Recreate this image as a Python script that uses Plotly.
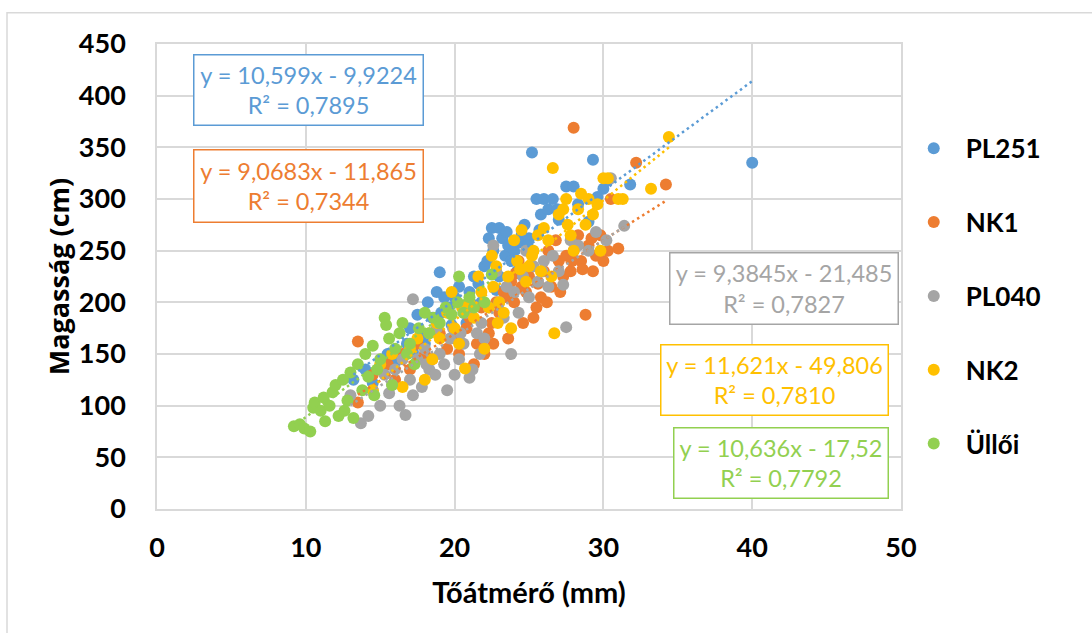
import plotly.graph_objects as go

series_names = ["PL251", "NK1", "PL040", "NK2", "Üllői"]
colors = ["#5B9BD5", "#ED7D31", "#A5A5A5", "#FFC000", "#92D050"]

pl251_x = [13.2, 14.0, 14.5, 15.5, 16.2, 16.8, 17.0, 17.5, 17.8, 18.2, 18.5, 18.8, 19.0, 19.3, 19.6,
           20.0, 20.3, 20.6, 21.0, 21.3, 21.6, 22.0, 22.2, 22.5, 22.6, 23.0, 23.2, 23.4, 23.6, 23.8,
           24.0, 24.2, 24.5, 24.7, 25.0, 25.2, 25.5, 25.8, 26.0, 26.3, 26.6, 27.0, 27.5, 28.0, 28.3,
           29.0, 29.3, 29.6, 30.0, 30.3, 31.8, 40.0, 19.8, 21.8, 23.0, 17.2, 16.0, 18.0, 20.8, 22.8,
           22.3, 23.5, 24.3, 21.2, 19.1, 25.7, 26.9, 24.9]
pl251_y = [125, 135, 122, 150, 148, 160, 175, 188, 170, 200, 185, 210, 229, 205, 195,
           205, 215, 190, 210, 225, 218, 235, 240, 272, 250, 272, 262, 245, 255, 240,
           250, 230, 265, 275, 262, 345, 300, 285, 300, 290, 300, 280, 312, 312, 295,
           278, 338, 302, 310, 318, 314, 335, 178, 200, 225, 152, 142, 160, 180, 212,
           262, 268, 258, 198, 190, 270, 290, 255]

nk1_x = [13.5, 13.5, 14.5, 15.5, 16.0, 16.5, 17.0, 17.5, 18.0, 18.5, 19.0, 19.5, 20.0, 20.3, 20.8,
         21.0, 21.5, 21.8, 22.0, 22.3, 22.5, 22.8, 23.0, 23.3, 23.5, 23.8, 24.0, 24.3, 24.5, 24.8,
         25.0, 25.3, 25.5, 25.8, 26.0, 26.3, 26.5, 27.0, 27.3, 27.5, 27.8, 28.0, 28.0, 28.3, 28.5,
         28.8, 29.0, 29.3, 29.5, 29.8, 30.0, 30.3, 30.5, 31.0, 32.2, 34.2, 26.8, 24.6, 23.6, 21.3,
         25.6, 26.2, 27.1, 28.6, 24.1, 22.6, 27.9, 29.2]
nk1_y = [103, 162, 130, 140, 125, 150, 135, 160, 150, 145, 170, 155, 165, 150, 175,
         185, 160, 195, 150, 170, 180, 200, 190, 210, 205, 220, 200, 240, 215, 210,
         225, 185, 195, 205, 230, 250, 215, 240, 225, 245, 230, 369, 250, 265, 240,
         188, 255, 230, 245, 265, 240, 250, 300, 252, 335, 314, 260, 180, 165, 140,
         218, 200, 210, 232, 228, 160, 240, 262]

pl040_x = [13.0, 13.7, 14.2, 14.5, 15.0, 15.3, 15.8, 16.0, 16.3, 16.7, 17.0, 17.2, 17.5, 17.8, 18.0,
           18.3, 18.7, 19.0, 19.3, 19.7, 20.0, 20.3, 20.6, 21.0, 21.2, 21.5, 21.8, 22.0, 22.3, 22.6,
           23.0, 23.3, 23.8, 24.0, 24.3, 24.6, 25.0, 25.3, 25.6, 26.0, 26.3, 26.6, 27.0, 27.3, 27.5,
           27.8, 28.3, 29.0, 29.5, 30.2, 30.5, 31.4, 17.2, 18.8, 22.8, 24.8, 20.8, 19.5,
           16.5, 18.1, 19.9, 21.7, 23.5, 25.9, 15.6, 20.4]
pl040_y = [110, 83, 90, 115, 100, 130, 120, 135, 100, 91, 125, 110, 145, 118, 155,
           135, 130, 150, 140, 165, 130, 145, 160, 127, 135, 170, 180, 165, 195, 255,
           200, 185, 150, 210, 190, 225, 205, 235, 220, 240, 215, 245, 230, 217, 176,
           260, 255, 250, 268, 260, 320, 274, 203, 175, 230, 250, 190, 115,
           145, 140, 175, 150, 215, 230, 112, 170]

nk2_x = [14.5, 15.0, 15.8, 16.5, 17.0, 17.5, 18.0, 18.3, 18.8, 19.0, 19.5, 20.0, 20.3, 20.7, 21.0,
         21.3, 21.8, 22.0, 22.3, 22.5, 22.6, 22.8, 23.0, 23.3, 23.6, 24.0, 24.2, 24.5, 24.8, 25.0,
         25.3, 25.6, 25.8, 26.0, 26.3, 26.6, 26.7, 27.0, 27.3, 27.5, 27.8, 28.0, 28.3, 28.5, 29.0,
         29.3, 29.6, 30.0, 30.3, 31.0, 31.3, 33.2, 34.4, 29.8, 28.8, 23.8, 21.6, 19.8, 18.5,
         24.4, 25.2, 26.5, 22.9, 20.5, 27.6]
nk2_y = [115, 140, 150, 118, 155, 165, 125, 170, 180, 165, 190, 175, 160, 136, 200,
         185, 210, 155, 195, 245, 215, 235, 200, 190, 225, 260, 240, 270, 220, 235,
         250, 265, 230, 272, 260, 330, 170, 285, 290, 300, 265, 250, 290, 305, 300,
         285, 295, 320, 320, 300, 300, 310, 360, 250, 275, 175, 225, 210, 145,
         232, 245, 225, 180, 195, 275]

ulloi_x = [9.2, 9.6, 9.9, 10.3, 10.5, 10.6, 11.0, 11.3, 11.6, 11.8, 12.0, 12.2, 12.5, 12.8, 13.0,
           13.2, 13.5, 13.8, 14.0, 14.2, 14.5, 14.8, 15.0, 15.3, 15.4, 15.6, 15.8, 16.0, 16.3, 16.5,
           16.8, 17.0, 17.3, 17.6, 18.0, 18.3, 18.6, 19.0, 19.4, 19.8, 20.2, 20.3, 20.6, 21.0, 21.3,
           22.0, 22.5, 14.6, 12.6, 11.2]
ulloi_y = [80, 82, 78, 75, 98, 103, 95, 85, 100, 113, 120, 90, 125, 105, 132,
           88, 140, 115, 150, 128, 158, 135, 145, 185, 178, 165, 120, 155, 170, 180,
           150, 160, 140, 175, 190, 170, 185, 180, 195, 188, 200, 225, 190, 205, 195,
           200, 227, 110, 95, 108]

xs = [pl251_x, nk1_x, pl040_x, nk2_x, ulloi_x]
ys = [pl251_y, nk1_y, pl040_y, nk2_y, ulloi_y]

slopes = [10.599, 9.0683, 9.3845, 11.621, 10.636]
intercepts = [-9.9224, -11.865, -21.485, -49.806, -17.52]
eq_labels = ["y = 10,599x - 9,9224", "y = 9,0683x - 11,865", "y = 9,3845x - 21,485",
             "y = 11,621x - 49,806", "y = 10,636x - 17,52"]
r2_labels = ["R² = 0,7895", "R² = 0,7344", "R² = 0,7827", "R² = 0,7810", "R² = 0,7792"]

x_ticks = [0, 10, 20, 30, 40, 50]
y_ticks = [0, 50, 100, 150, 200, 250, 300, 350, 400, 450]

FONT = "Lato"
GRID = "#d9d9d9"

fig = go.Figure()
for i, name in enumerate(series_names):
    fig.add_trace(go.Scatter(
        x=xs[i], y=ys[i], mode="markers", name=name,
        legendgroup=name,
        marker=dict(color=colors[i], size=12, line=dict(width=0)),
    ))

for i, name in enumerate(series_names):
    x0, x1 = min(xs[i]), max(xs[i])
    fig.add_trace(go.Scatter(
        x=[x0, x1], y=[slopes[i] * x0 + intercepts[i], slopes[i] * x1 + intercepts[i]],
        mode="lines", showlegend=False, hoverinfo="skip",
        line=dict(color=colors[i], width=2.5, dash="2.5px,3.5px"),
    ))

# label boxes: (x, y) centre in data units, width, height in px
box_pos = [(10.17, 405.3, 228, 69), (10.17, 312.3, 228, 71), (42.12, 213.0, 227, 70),
           (41.48, 124.4, 226, 69), (41.92, 44.1, 213, 69)]
for i in range(5):
    bx, by, bw, bh = box_pos[i]
    fig.add_annotation(
        x=bx, y=by, xref="x", yref="y", xanchor="center", yanchor="middle",
        text=eq_labels[i] + "<br>" + r2_labels[i], showarrow=False,
        font=dict(family=FONT, size=23.5, color=colors[i]),
        bordercolor=colors[i], borderwidth=1.5, borderpad=0,
        width=bw, height=bh, bgcolor="white", align="center",
    )

# outer chart border
fig.add_shape(type="rect", xref="paper", yref="paper",
              x0=(7 - 157) / 744, x1=1.5, y0=-0.5, y1=(509 - 13) / 464.7,
              line=dict(color=GRID, width=1.5), layer="below")

fig.update_layout(
    width=1092, height=633,
    margin=dict(l=157, r=191, t=44, b=124),
    paper_bgcolor="white", plot_bgcolor="white",
    font=dict(family=FONT, color="black"),
    showlegend=True,
    legend=dict(x=1.001, y=0.826, xanchor="left", yanchor="top",
                font=dict(family=FONT, size=26, color="black", weight="bold"),
                itemwidth=54, tracegroupgap=37, bgcolor="rgba(0,0,0,0)"),
    xaxis=dict(range=[0, 50], tickvals=x_ticks, showgrid=True, gridcolor=GRID, gridwidth=1.5,
               zeroline=False, showline=True, linecolor=GRID, linewidth=1.5, mirror=True,
               ticks="", ticklabelstandoff=14,
               tickfont=dict(family=FONT, size=27, color="black", weight="bold"),
               title=dict(text="Tőátmérő (mm)", standoff=21,
                          font=dict(family=FONT, size=29, color="black", weight="bold"))),
    yaxis=dict(range=[0, 450], tickvals=y_ticks, showgrid=True, gridcolor=GRID, gridwidth=1.5,
               zeroline=False, showline=True, linecolor=GRID, linewidth=1.5, mirror=True,
               ticks="", ticklabelstandoff=24,
               tickfont=dict(family=FONT, size=27, color="black", weight="bold"),
               title=dict(text="Magasság (cm)", standoff=1,
                          font=dict(family="Open Sans", size=27, color="black", weight="bold"))),
)

fig.write_html("out.html", config={"displayModeBar": False},
               post_script="document.body.style.margin='0';")
